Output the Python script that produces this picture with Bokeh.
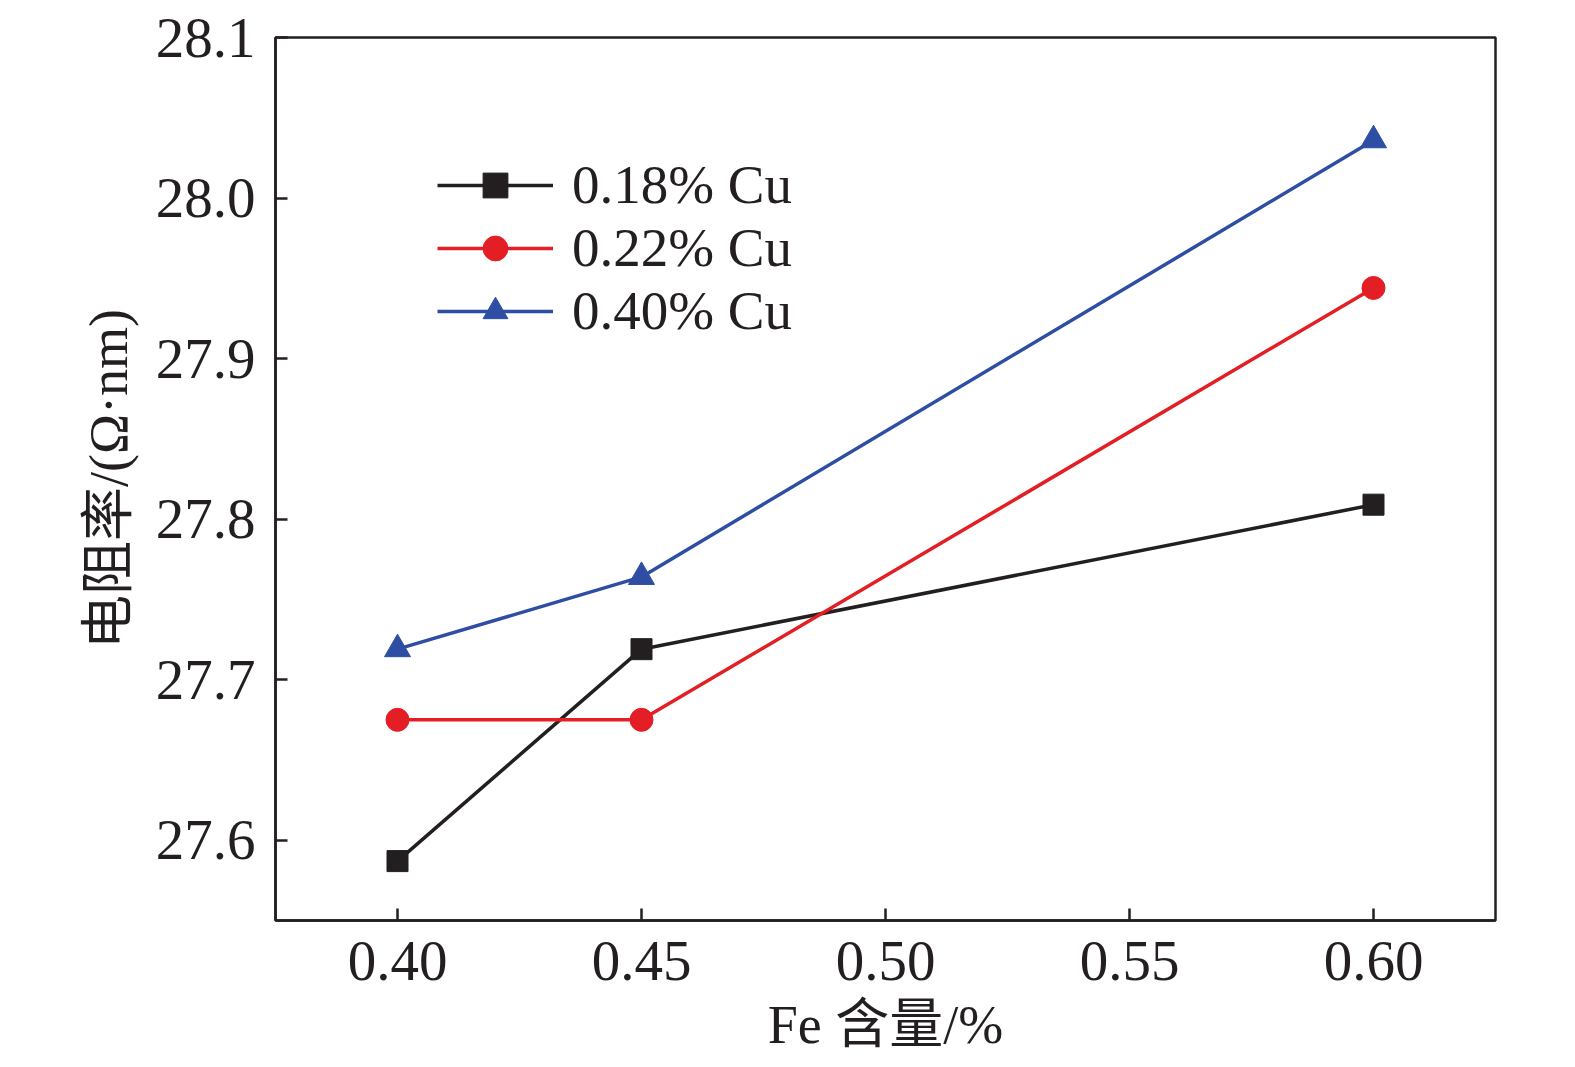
from bokeh.plotting import figure
from bokeh.models import Legend, LegendItem, Range1d, FixedTicker, NumeralTickFormatter
from bokeh.embed import file_html
from bokeh.resources import INLINE

# dados
fe = [0.40, 0.45, 0.60]
cu018 = [27.587, 27.719, 27.809]
cu022 = [27.675, 27.675, 27.944]
cu040 = [27.719, 27.764, 28.036]
x_ticks = [0.40, 0.45, 0.50, 0.55, 0.60]
y_ticks = [27.6, 27.7, 27.8, 27.9, 28.0, 28.1]

serif = "Liberation Serif, Noto Sans CJK SC"

p = figure(width=1570, height=1057, output_backend="svg", toolbar_location=None,
           x_range=Range1d(0.375, 0.625), y_range=Range1d(27.55, 28.1),
           min_border_left=275, min_border_right=75, min_border_top=37, min_border_bottom=136)

black = "#231f20"
red = "#e31e24"
blue = "#2d4ea2"

r1l = p.line(fe, cu018, line_color=black, line_width=3.5)
r1m = p.scatter(fe, cu018, marker="square", size=21, color=black)
r2l = p.line(fe, cu022, line_color=red, line_width=3.5)
r2m = p.scatter(fe, cu022, marker="circle", size=23, color=red)
r3l = p.line(fe, cu040, line_color=blue, line_width=3.5)
r3m = p.scatter(fe, cu040, marker="triangle", size=26, color=blue)

legend = Legend(items=[LegendItem(label="0.18% Cu", renderers=[r1l, r1m]),
                       LegendItem(label="0.22% Cu", renderers=[r2l, r2m]),
                       LegendItem(label="0.40% Cu", renderers=[r3l, r3m])],
                location=(162, 578), padding=0, margin=0, spacing=0,
                glyph_width=116, glyph_height=62, label_height=62, label_standoff=19,
                label_text_font=serif, label_text_font_size="55px", label_text_color=black,
                border_line_color=None, background_fill_alpha=0)
p.add_layout(legend)

# eixos
p.xaxis.ticker = FixedTicker(ticks=x_ticks)
p.yaxis.ticker = FixedTicker(ticks=y_ticks)
p.xaxis.formatter = NumeralTickFormatter(format="0.00")
p.yaxis.formatter = NumeralTickFormatter(format="0.0")
p.axis.major_tick_in = 12
p.axis.major_tick_out = 0
p.axis.minor_tick_line_color = None
p.axis.axis_line_width = 2.5
p.axis.axis_line_color = black
p.axis.major_tick_line_width = 2.5
p.axis.major_tick_line_color = black
p.axis.major_label_text_font = serif
p.axis.major_label_text_font_size = "57px"
p.axis.major_label_text_color = black
p.xaxis.major_label_standoff = 21
p.yaxis.major_label_standoff = 20
p.axis.axis_label_text_font = serif
p.axis.axis_label_text_font_size = "54px"
p.axis.axis_label_text_font_style = "normal"
p.axis.axis_label_text_color = black
p.xaxis.axis_label = "Fe 含量/%"
p.yaxis.axis_label = "电阻率/(Ω·nm)"
p.xaxis.axis_label_standoff = 12
p.yaxis.axis_label_standoff = 14

p.xgrid.grid_line_color = None
p.ygrid.grid_line_color = None
p.outline_line_color = black
p.outline_line_width = 2.5
p.outline_line_alpha = 1

open("out.html", "w").write(file_html(p, INLINE))
